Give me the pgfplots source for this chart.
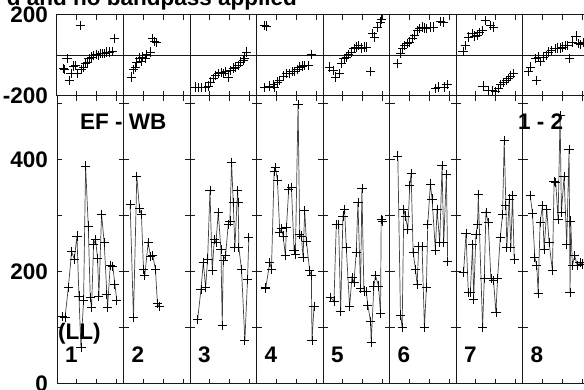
\documentclass[border=0pt]{standalone}
\usepackage{fontspec}
\setmainfont{Liberation Sans}
\usepackage{pgfplots}
\pgfplotsset{compat=1.18}
\newcommand\lab{\fontsize{22.5}{24}\selectfont\bfseries}
\pgfplotsset{
  panel/.style={scale only axis, width=66.5pt, xmin=0, xmax=1,
    xtick={0.3,0.6,0.9}, xticklabels={}, yticklabels={},
    tick align=inside, major tick length=5pt,
    axis line style={black!90, line width=1pt},
    every tick/.style={black!90, line width=1pt},
    yticklabel style={font=\lab, inner sep=0pt, xshift=-9pt},
    clip=false, anchor=south west},
  amp/.style={panel, height=288pt, ymin=0, ymax=514,
    ytick={0,100,200,300,400,500}, at={(#1,6pt)}},
  ph/.style={panel, height=81pt, ymin=-200, ymax=200,
    ytick={-200,0,200}, ymajorgrids,
    grid style={black!90, line width=1pt}, at={(#1,294pt)}},
  aline/.style={black!75, line width=0.7pt, mark=+, mark size=4.6pt,
    mark options={black, line width=0.8pt}},
  pmark/.style={only marks, mark=+, mark size=4.6pt,
    mark options={black, line width=0.8pt}},
}
\begin{document}
\begin{tikzpicture}
\path[use as bounding box] (0,0) rectangle (584pt,390pt);
\clip (0,0) rectangle (584pt,390pt);
% ---------------- phase row ----------------
\begin{axis}[ph={57pt}, yticklabels={-200,,200}]
\addplot[pmark] coordinates {(0.10,-65)(0.115,-68)(0.15,-16)(0.185,-123)(0.21,-90)(0.25,-52)(0.28,-49)(0.31,-90)(0.35,149)(0.36,-68)(0.40,-57)(0.43,-40)(0.46,-32)(0.48,-16)(0.52,-7)(0.55,1)(0.59,4)(0.62,1)(0.65,9)(0.69,9)(0.72,9)(0.75,17)(0.79,17)(0.83,21)(0.87,83)};
\end{axis}
\begin{axis}[ph={123.5pt}]
\addplot[pmark] coordinates {(0.115,-106)(0.15,-70)(0.175,-57)(0.20,-32)(0.235,-12)(0.265,-29)(0.285,-7)(0.325,-16)(0.35,4)(0.40,17)(0.435,83)(0.465,70)(0.50,63)};
\end{axis}
\begin{axis}[ph={190pt}]
\addplot[pmark] coordinates {(0.085,-156)(0.125,-160)(0.175,-160)(0.225,-157)(0.275,-151)(0.30,-131)(0.35,-114)(0.385,-98)(0.425,-90)(0.465,-85)(0.50,-90)(0.535,-81)(0.575,-106)(0.615,-73)(0.65,-62)(0.685,-57)(0.725,-49)(0.765,-32)(0.80,-24)(0.825,-12)(0.85,17)};
\end{axis}
\begin{axis}[ph={256.5pt}]
\addplot[pmark] coordinates {(0.115,149)(0.15,146)(0.125,-160)(0.20,-151)(0.25,-144)(0.275,-156)(0.315,-131)(0.35,-123)(0.40,-101)(0.45,-90)(0.50,-90)(0.535,-78)(0.575,-81)(0.615,-68)(0.65,-57)(0.685,-52)(0.725,-49)(0.775,-49)(0.825,4)};
\end{axis}
\begin{axis}[ph={323pt}]
\addplot[pmark] coordinates {(0.10,-57)(0.15,-73)(0.185,-106)(0.25,-90)(0.275,-40)(0.315,-16)(0.35,-7)(0.385,4)(0.425,17)(0.465,34)(0.50,42)(0.535,50)(0.575,37)(0.615,42)(0.65,42)(0.715,-81)(0.75,108)(0.775,91)(0.825,141)(0.865,165)(0.885,178)};
\end{axis}
\begin{axis}[ph={389.5pt}]
\addplot[pmark] coordinates {(0.125,-40)(0.165,9)(0.19,37)(0.225,50)(0.265,58)(0.305,67)(0.34,83)(0.375,100)(0.415,124)(0.455,132)(0.49,141)(0.525,136)(0.555,132)(0.615,141)(0.665,141)(0.765,169)(0.805,165)(0.69,-164)(0.74,-156)(0.825,-156)(0.865,-144)};
\end{axis}
\begin{axis}[ph={456pt}]
\addplot[pmark] coordinates {(0.105,21)(0.14,50)(0.19,91)(0.24,108)(0.275,96)(0.315,99)(0.355,113)(0.39,124)(0.44,174)(0.515,149)(0.565,141)(0.405,-151)(0.49,-172)(0.54,-172)(0.59,-177)(0.64,-164)(0.675,-144)(0.715,-134)(0.755,-123)(0.79,-114)(0.825,-101)(0.865,-90)};
\end{axis}
\begin{axis}[ph={522.5pt}]
\addplot[pmark] coordinates {(0.09,-81)(0.125,-57)(0.19,-16)(0.215,-123)(0.24,-7)(0.265,-29)(0.315,-7)(0.355,1)(0.39,17)(0.44,25)(0.49,34)(0.525,37)(0.565,37)(0.605,42)(0.64,50)(0.675,50)(0.705,-16)(0.755,67)(0.805,96)(0.84,58)(0.875,53)(0.915,63)};
\end{axis}
% ---------------- amplitude row ----------------
\begin{axis}[amp={57pt}, yticklabels={0,,200,,400,}]
\addplot[aline] coordinates {(0.08,120)(0.12,118)(0.17,172)(0.22,236)(0.26,223)(0.30,264)(0.33,157)(0.36,65)(0.40,150)(0.43,389)(0.47,282)(0.50,155)(0.52,136)(0.55,249)(0.58,258)(0.61,224)(0.63,157)(0.67,303)(0.71,252)(0.75,160)(0.76,136)(0.80,211)(0.84,210)(0.87,178)(0.90,149)};
\end{axis}
\begin{axis}[amp={123.5pt}]
\addplot[aline] coordinates {(0.10,321)(0.15,118)(0.20,371)(0.24,313)(0.27,302)(0.30,205)(0.32,193)(0.37,252)(0.41,227)(0.44,229)(0.48,205)(0.51,144)(0.54,138)};
\end{axis}
\begin{axis}[amp={190pt}]
\addplot[aline] coordinates {(0.115,115)(0.165,169)(0.20,217)(0.235,172)(0.265,223)(0.30,345)(0.335,202)(0.365,258)(0.39,252)(0.425,306)(0.465,240)(0.485,105)(0.50,221)(0.535,229)(0.575,285)(0.60,291)(0.625,396)(0.65,324)(0.675,243)(0.715,345)(0.725,324)(0.735,243)(0.775,204)(0.825,77)(0.865,187)(0.885,261)};
\end{axis}
\begin{axis}[amp={256.5pt}]
\addplot[aline] coordinates {(0.135,170)(0.14,172)(0.20,217)(0.225,205)(0.265,379)(0.285,386)(0.315,364)(0.35,270)(0.375,277)(0.40,264)(0.435,229)(0.45,279)(0.485,348)(0.525,351)(0.565,239)(0.585,232)(0.625,499)(0.65,267)(0.675,264)(0.70,226)(0.725,309)(0.75,255)(0.80,202)(0.825,193)(0.835,77)(0.865,139)};
\end{axis}
\begin{axis}[amp={323pt}]
\addplot[aline] coordinates {(0.115,154)(0.165,148)(0.20,285)(0.235,285)(0.265,130)(0.30,300)(0.325,312)(0.35,243)(0.40,138)(0.435,190)(0.465,181)(0.50,235)(0.525,324)(0.565,170)(0.585,349)(0.615,166)(0.65,165)(0.675,140)(0.715,112)(0.725,75)(0.765,175)(0.79,193)(0.835,175)(0.865,126)(0.875,293)(0.90,291)};
\end{axis}
\begin{axis}[amp={389.5pt}]
\addplot[aline] coordinates {(0.125,407)(0.165,123)(0.19,101)(0.215,312)(0.24,300)(0.275,276)(0.305,354)(0.325,376)(0.355,235)(0.39,205)(0.415,178)(0.44,246)(0.49,245)(0.525,101)(0.555,172)(0.575,285)(0.615,357)(0.64,330)(0.69,239)(0.715,312)(0.755,252)(0.79,390)(0.815,252)(0.855,374)(0.875,218)};
\end{axis}
\begin{axis}[amp={456pt}]
\addplot[aline] coordinates {(0.115,200)(0.15,269)(0.185,163)(0.215,163)(0.25,249)(0.265,151)(0.30,267)(0.325,285)(0.335,338)(0.40,101)(0.425,188)(0.45,306)(0.485,288)(0.525,188)(0.565,184)(0.60,127)(0.625,188)(0.665,261)(0.70,303)(0.725,434)(0.75,318)(0.765,243)(0.80,330)(0.825,243)(0.85,337)(0.875,223)};
\end{axis}
\begin{axis}[amp={522.5pt}]
\addplot[aline] coordinates {(0.115,337)(0.15,305)(0.185,226)(0.215,211)(0.235,162)(0.265,289)(0.30,318)(0.325,240)(0.365,312)(0.40,252)(0.45,202)(0.475,362)(0.50,360)(0.535,294)(0.565,479)(0.585,307)(0.625,370)(0.665,249)(0.70,419)(0.715,163)(0.725,291)(0.75,211)(0.785,229)(0.825,211)(0.865,217)(0.90,214)};
\end{axis}
% ---------------- texts ----------------
\node[anchor=base east, inner sep=0pt, font=\lab] at (297pt,384.5pt) {d and no bandpass applied};
\node[anchor=base west, inner sep=0pt, font=\lab] at (80pt,260.7pt) {EF - WB};
\node[anchor=base west, inner sep=0pt, font=\lab] at (518pt,260.7pt) {1 - 2};
\node[anchor=base west, inner sep=0pt, font=\lab] at (58pt,50.7pt) {(LL)};
\foreach \i/\x in {1/57,2/123.5,3/190,4/256.5,5/323,6/389.5,7/456,8/522.5}
  \node[anchor=base west, inner sep=0pt, font=\lab] at (\x pt+8pt,27.3pt) {\i};
\end{tikzpicture}
\end{document}
